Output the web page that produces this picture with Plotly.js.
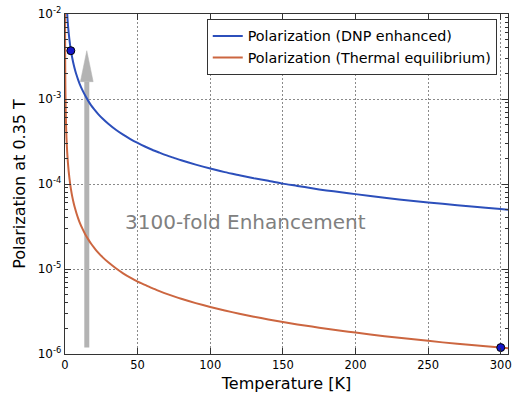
<!DOCTYPE html>
<html>
<head>
<meta charset="utf-8">
<script src="https://cdn.plot.ly/plotly-3.0.1.min.js"></script>
<style>html,body{margin:0;padding:0;background:#fff;}#chart{width:513px;height:394px;}</style>
</head>
<body>
<div id="chart"></div>
<script>
// Temperature [K] and polarization values
const dnpTemps = [1.4, 1.7, 2, 2.5, 3, 3.5, 4, 5, 6, 7, 8, 9, 10, 12, 14, 16, 18, 20, 23, 26, 30, 35, 40, 45, 50, 55, 60, 65, 70, 75, 80, 90, 100, 110, 120, 130, 140, 150, 160, 170, 180, 190, 200, 220, 240, 260, 280, 300, 305];
const dnpPolarization = [1.09e-2, 8.9e-3, 7.6e-3, 6.08e-3, 5.07e-3, 4.34e-3, 3.8e-3, 3.04e-3, 2.53e-3, 2.17e-3, 1.9e-3, 1.69e-3, 1.52e-3, 1.27e-3, 1.09e-3, 9.5e-4, 8.4e-4, 7.6e-4, 6.6e-4, 5.85e-4, 5.07e-4, 4.34e-4, 3.8e-4, 3.38e-4, 3.04e-4, 2.76e-4, 2.53e-4, 2.34e-4, 2.17e-4, 2.03e-4, 1.9e-4, 1.69e-4, 1.52e-4, 1.38e-4, 1.27e-4, 1.17e-4, 1.09e-4, 1.01e-4, 9.5e-5, 8.9e-5, 8.4e-5, 8.0e-5, 7.6e-5, 6.9e-5, 6.3e-5, 5.85e-5, 5.43e-5, 5.07e-5, 4.98e-5];

const thermalTemps = [0.03, 0.05, 0.1, 0.2, 0.3, 0.5, 0.75, 1, 1.5, 2, 2.5, 3, 3.5, 4, 5, 6, 7, 8, 9, 10, 12, 14, 16, 18, 20, 23, 26, 30, 35, 40, 45, 50, 55, 60, 65, 70, 75, 80, 90, 100, 110, 120, 130, 140, 150, 160, 170, 180, 190, 200, 220, 240, 260, 280, 300, 305];
const thermalPolarization = [1.19e-2, 7.14e-3, 3.57e-3, 1.79e-3, 1.19e-3, 7.14e-4, 4.76e-4, 3.57e-4, 2.38e-4, 1.79e-4, 1.43e-4, 1.19e-4, 1.02e-4, 8.9e-5, 7.1e-5, 5.95e-5, 5.1e-5, 4.46e-5, 3.97e-5, 3.57e-5, 2.98e-5, 2.55e-5, 2.23e-5, 1.98e-5, 1.79e-5, 1.55e-5, 1.37e-5, 1.19e-5, 1.02e-5, 8.9e-6, 7.9e-6, 7.1e-6, 6.5e-6, 5.95e-6, 5.5e-6, 5.1e-6, 4.76e-6, 4.46e-6, 3.97e-6, 3.57e-6, 3.25e-6, 2.98e-6, 2.75e-6, 2.55e-6, 2.38e-6, 2.23e-6, 2.1e-6, 1.98e-6, 1.88e-6, 1.79e-6, 1.62e-6, 1.49e-6, 1.37e-6, 1.28e-6, 1.19e-6, 1.17e-6];

// highlighted points
const pointTemps = [4, 300];
const pointPolarization = [3.7e-3, 1.19e-6];

// enhancement arrow (temperature, bottom, head base, tip)
const arrowTemp = 15;
const arrowHalfWidth = 4.4;
const arrowBottom = 1.19e-6;
const arrowHeadBase = 1.6e-3;
const arrowTip = 3.7e-3;

const yTickVals = [1e-6, 1e-5, 1e-4, 1e-3, 1e-2];
const yTickText = ['10<sup>-6</sup>', '10<sup>-5</sup>', '10<sup>-4</sup>', '10<sup>-3</sup>', '10<sup>-2</sup>'];
const xTickVals = [0, 50, 100, 150, 200, 250, 300];

const font = 'DejaVu Sans, Arial, sans-serif';
const grey = '#b3b3b3';

const traces = [
  {x: [arrowTemp, arrowTemp], y: [arrowBottom, arrowHeadBase], mode: 'lines',
   line: {color: grey, width: 5}, showlegend: false, hoverinfo: 'skip'},
  {x: [arrowTemp - arrowHalfWidth, arrowTemp + arrowHalfWidth, arrowTemp, arrowTemp - arrowHalfWidth],
   y: [arrowHeadBase, arrowHeadBase, arrowTip, arrowHeadBase], mode: 'lines', fill: 'toself',
   fillcolor: grey, line: {color: grey, width: 0.5}, showlegend: false, hoverinfo: 'skip'},
  {x: dnpTemps, y: dnpPolarization, mode: 'lines', name: 'Polarization (DNP enhanced)',
   line: {color: '#2C4FBB', width: 2, shape: 'spline', smoothing: 0.6}},
  {x: thermalTemps, y: thermalPolarization, mode: 'lines', name: 'Polarization (Thermal equilibrium)',
   line: {color: '#CC6640', width: 2, shape: 'spline', smoothing: 0.6}},
  {x: pointTemps, y: pointPolarization, mode: 'markers', showlegend: false,
   marker: {color: '#1515C8', size: 8, line: {color: '#000', width: 1}}, cliponaxis: false}
];

const layout = {
  width: 513, height: 394,
  margin: {l: 65, r: 5, t: 14, b: 40},
  paper_bgcolor: '#fff', plot_bgcolor: '#fff',
  font: {family: font, color: '#000', size: 11},
  showlegend: true,
  legend: {x: 0.32, y: 0.985, xanchor: 'left', yanchor: 'top', bgcolor: '#fff',
           bordercolor: '#333', borderwidth: 1, font: {size: 14.3, family: font},
           tracegroupgap: 0},
  xaxis: {range: [0, 305], tickvals: xTickVals, ticks: 'inside', ticklen: 6, tickcolor: '#333',
          showline: true, linecolor: '#333', linewidth: 1.3, mirror: 'ticks',
          showgrid: true, gridcolor: '#8a8a8a', griddash: '1.5px,2.5px', gridwidth: 1, zeroline: false,
          title: {text: 'Temperature [K]', font: {size: 16, family: font}, standoff: 6},
          tickfont: {size: 11.5, family: font}},
  yaxis: {type: 'log', range: [-6, -2], tickvals: yTickVals, ticktext: yTickText,
          ticks: 'inside', ticklen: 6, tickcolor: '#333',
          showline: true, linecolor: '#333', linewidth: 1.3, mirror: 'ticks',
          showgrid: true, gridcolor: '#8a8a8a', griddash: '1.5px,2.5px', gridwidth: 1, zeroline: false,
          minor: {ticks: 'inside', ticklen: 3, tickcolor: '#333', dtick: 'D1', showgrid: false},
          title: {text: 'Polarization at 0.35 T', font: {size: 16, family: font}, standoff: 8},
          tickfont: {size: 12, family: font}},
  annotations: [
    {x: 40, y: -4.447, xref: 'x', yref: 'y', xanchor: 'left', yanchor: 'middle',
     text: '3100-fold Enhancement', showarrow: false,
     font: {size: 20, color: '#808080', family: font}}
  ]
};

Plotly.newPlot('chart', traces, layout, {displayModeBar: false, staticPlot: true});
</script>
</body>
</html>
